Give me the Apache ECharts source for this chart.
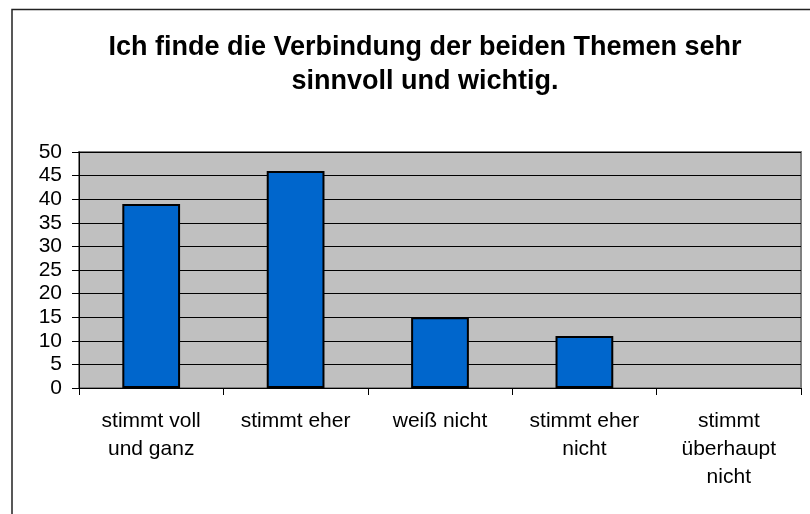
<!DOCTYPE html>
<html>
<head>
<meta charset="utf-8">
<script src="https://cdn.jsdelivr.net/npm/echarts@6/dist/echarts.min.js"></script>
<style>
  html, body { margin: 0; padding: 0; background: #fff; }
  #chart { width: 810px; height: 514px; }
</style>
</head>
<body>
<div id="chart"></div>
<script>
const titleText = 'Ich finde die Verbindung der beiden Themen sehr\nsinnvoll und wichtig.';
const categories = ['stimmt voll\nund ganz', 'stimmt eher', 'weiß nicht', 'stimmt eher\nnicht', 'stimmt\nüberhaupt\nnicht'];
const answers = [39, 46, 15, 11, 0];
const yMin = 0, yMax = 50, yStep = 5;

window.addEventListener('DOMContentLoaded', function () {
    var chart = echarts.init(document.getElementById('chart'));
    var font = 'Liberation Sans, Arial, sans-serif';

    // a zero bar has no visible outline in the original
    var barData = answers.map(v => v === 0 ? { value: v, itemStyle: { borderWidth: 0 } } : v);

    var option = {
        backgroundColor: '#fff',
        animation: false,
        title: {
            text: titleText,
            left: 420,
            textAlign: 'center',
            top: 26,
            textStyle: {
                fontFamily: font,
                fontSize: 27,
                fontWeight: 'bold',
                color: '#000',
                lineHeight: 34
            }
        },
        graphic: [{
            // frame around the chart, only top and left edges visible
            type: 'rect',
            silent: true,
            shape: { x: 12, y: 9.5, width: 1000, height: 1000 },
            style: { fill: 'none', stroke: '#222', lineWidth: 1.5 }
        }],
        grid: {
            left: 79,
            top: 152,
            right: 9,
            bottom: 126,
            show: true,
            backgroundColor: '#C0C0C0',
            borderColor: '#808080',
            borderWidth: 2
        },
        xAxis: {
            type: 'category',
            data: categories,
            axisLine: { show: true, lineStyle: { color: '#000', width: 1 } },
            axisTick: { show: true, inside: false, length: 7, lineStyle: { color: '#000' } },
            axisLabel: {
                interval: 0,
                margin: 19,
                fontFamily: font,
                fontSize: 21,
                lineHeight: 28,
                color: '#000',
                align: 'center'
            }
        },
        yAxis: {
            type: 'value',
            min: yMin,
            max: yMax,
            interval: yStep,
            axisLine: { show: true, lineStyle: { color: '#000', width: 1 } },
            axisTick: { show: true, inside: false, length: 7, lineStyle: { color: '#000' } },
            axisLabel: {
                margin: 17,
                fontFamily: font,
                fontSize: 21,
                color: '#000'
            },
            splitLine: { show: true, lineStyle: { color: '#000', width: 1 } }
        },
        series: [{
            type: 'bar',
            data: barData,
            barWidth: '40%',
            itemStyle: {
                color: '#0066CC',
                borderColor: '#000',
                borderWidth: 2
            }
        }]
    };

    chart.setOption(option);
}, false);
</script>
</body>
</html>
